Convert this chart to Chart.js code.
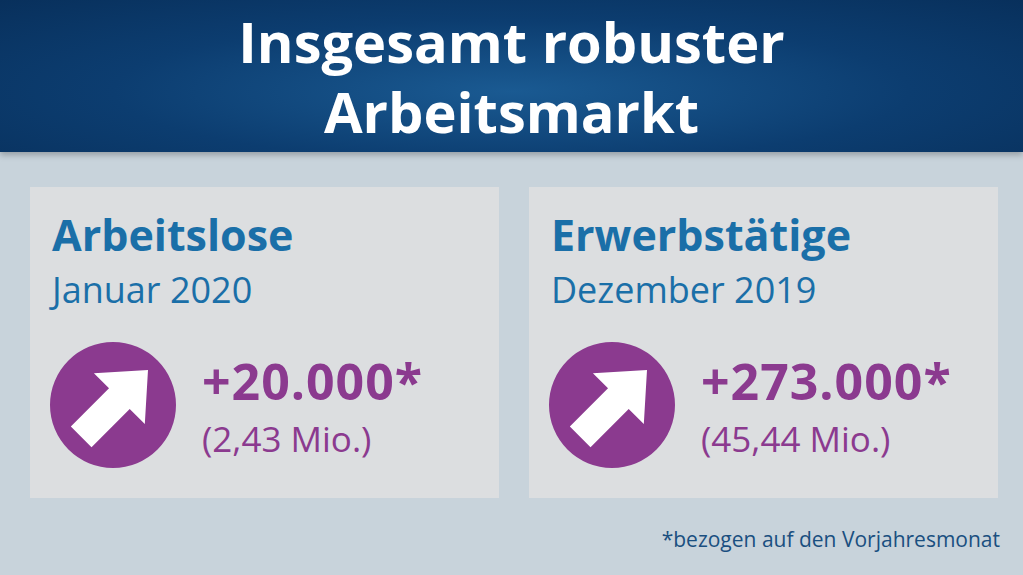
<!DOCTYPE html>
<html><head><meta charset="utf-8">
<script src="https://cdn.jsdelivr.net/npm/chart.js@4"></script>
<style>
body{margin:0;width:1023px;height:575px;overflow:hidden;background:#c8d3db;font-family:"Open Sans",sans-serif;position:relative}
#hdr{position:absolute;left:0;top:0;width:1023px;height:152px;background:radial-gradient(ellipse at 50% 60%,#1a5a92 0%,#0c3d70 55%,#08305c 100%);box-shadow:0 3px 6px rgba(0,0,0,.25)}
#hdr div{color:#fff;font-weight:700;font-size:56px;text-align:center;line-height:70px;padding-top:6px}
.card{position:absolute;top:187px;width:469px;height:311px;background:#dcdee0}
.h{position:absolute;left:22px;top:18px;color:#1a6fa8;font-weight:700;font-size:43px}
.s{position:absolute;left:22px;top:78px;color:#1a6fa8;font-size:36px}
.v{position:absolute;top:160px;color:#8b3a8f;font-weight:700;font-size:50px;letter-spacing:1px}
.m{position:absolute;top:228px;color:#8b3a8f;font-size:35px}
.c{position:absolute;left:18px;top:153px;width:130px;height:130px}
#fn{position:absolute;right:23px;top:525px;color:#1a4f80;font-size:21px}
</style></head><body>
<div id="hdr"><div>Insgesamt robuster<br>Arbeitsmarkt</div></div>
<div class="card" style="left:30px"><div class="h" id="h0"></div><div class="s" id="s0"></div>
<div class="c"><canvas id="c0" width="130" height="130"></canvas></div>
<div class="v" id="v0" style="left:172px"></div><div class="m" id="m0" style="left:172px"></div></div>
<div class="card" style="left:529px"><div class="h" id="h1"></div><div class="s" id="s1"></div>
<div class="c"><canvas id="c1" width="130" height="130"></canvas></div>
<div class="v" id="v1" style="left:172px"></div><div class="m" id="m1" style="left:172px"></div></div>
<div id="fn">*bezogen auf den Vorjahresmonat</div>
<script>
const categories=["Arbeitslose","Erwerbstätige"];
const periods=["Januar 2020","Dezember 2019"];
const changes=["+20.000*","+273.000*"];
const totals=["(2,43 Mio.)","(45,44 Mio.)"];
const circleValues=[1,1];
const arrow={id:'arrow',afterDatasetsDraw(ch){const a=ch.getDatasetMeta(0).data[0];const x=a.x,y=a.y,r=a.outerRadius;const g=ch.ctx;g.save();g.translate(x,y);g.rotate(Math.PI/4);g.fillStyle='#fff';g.beginPath();
const s=r/56;g.moveTo(0,-44*s);g.lineTo(32*s,-8*s);g.lineTo(13*s,-8*s);g.lineTo(13*s,40*s);g.lineTo(-13*s,40*s);g.lineTo(-13*s,-8*s);g.lineTo(-32*s,-8*s);g.closePath();g.fill();g.restore();}};
categories.forEach((c,i)=>{
document.getElementById('h'+i).textContent=c;
document.getElementById('s'+i).textContent=periods[i];
document.getElementById('v'+i).textContent=changes[i];
document.getElementById('m'+i).textContent=totals[i];
new Chart(document.getElementById('c'+i),{type:'pie',data:{labels:[c],datasets:[{data:[circleValues[i]],backgroundColor:'#8b3a8f',borderWidth:0}]},
options:{responsive:false,animation:false,plugins:{legend:{display:false},tooltip:{enabled:false}},layout:{padding:2}},plugins:[arrow]});
});
</script></body></html>
